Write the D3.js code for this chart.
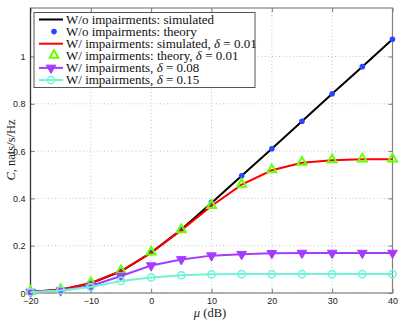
<!DOCTYPE html>
<html>
<head>
<meta charset="utf-8">
<script src="https://cdn.jsdelivr.net/npm/d3@7"></script>
<style>
  body { margin: 0; background: #fff; }
  .tick text { font-family: "Liberation Sans", Arial, sans-serif; font-size: 9px; fill: #222; }
  .serif { font-family: "Liberation Serif", "Times New Roman", serif; }
</style>
</head>
<body>
<svg id="chart" width="402" height="321"></svg>
<script>
var mu = [-20, -15, -10, -5, 0, 5, 10, 15, 20, 25, 30, 35, 40];
var noImpSim = [0.005, 0.014, 0.041, 0.092, 0.171, 0.268, 0.381, 0.496, 0.610, 0.726, 0.842, 0.957, 1.073];
var noImpTheory = [0.005, 0.014, 0.041, 0.092, 0.171, 0.268, 0.383, 0.496, 0.610, 0.726, 0.842, 0.957, 1.073];
var imp001Sim = [0.005, 0.013, 0.042, 0.093, 0.170, 0.266, 0.368, 0.458, 0.519, 0.551, 0.561, 0.565, 0.565];
var imp001Theory = [0.005, 0.013, 0.042, 0.093, 0.172, 0.266, 0.368, 0.458, 0.519, 0.551, 0.561, 0.565, 0.565];
var imp008 = [0.004, 0.010, 0.030, 0.072, 0.116, 0.142, 0.158, 0.164, 0.168, 0.169, 0.169, 0.169, 0.169];
var imp015 = [0.003, 0.011, 0.025, 0.051, 0.066, 0.075, 0.079, 0.080, 0.080, 0.080, 0.080, 0.080, 0.080];
var xTicks = [-20, -10, 0, 10, 20, 30, 40];
var yTicks = [0, 0.2, 0.4, 0.6, 0.8, 1];

var svg = d3.select('#chart');
var x = d3.scaleLinear().domain([-20, 40]).range([30.5, 392.5]);
var y = d3.scaleLinear().domain([0, 1.205]).range([293, 8]);
var L = x.range()[0], R = x.range()[1], T = y.range()[1], B = y.range()[0];

function pts(vals) { return vals.map(function (v, i) { return [mu[i], v]; }); }
var line = d3.line().x(function (d) { return x(d[0]); }).y(function (d) { return y(d[1]); });

// grid
var grid = svg.append('g').attr('stroke', '#c4c4c4').attr('stroke-dasharray', '1,2.5').attr('stroke-width', 1);
xTicks.forEach(function (t) {
    grid.append('line').attr('x1', x(t)).attr('x2', x(t)).attr('y1', T).attr('y2', B);
});
yTicks.forEach(function (t) {
    grid.append('line').attr('x1', L).attr('x2', R).attr('y1', y(t)).attr('y2', y(t));
});

// axes
svg.append('g').attr('transform', 'translate(0,' + B + ')')
    .call(d3.axisBottom(x).tickValues(xTicks).tickSize(-4).tickPadding(5).tickFormat(function (d) { return d < 0 ? '\u2212' + (-d) : d; }));
var yAxis = svg.append('g').attr('transform', 'translate(' + L + ',0)')
    .call(d3.axisLeft(y).tickValues(yTicks).tickSize(-4).tickPadding(5).tickFormat(function (d) { return d3.format('~g')(d); }));
svg.append('g').attr('transform', 'translate(0,' + T + ')')
    .call(d3.axisTop(x).tickValues(xTicks).tickSize(-4).tickFormat(''));
svg.append('g').attr('transform', 'translate(' + R + ',0)')
    .call(d3.axisRight(y).tickValues(yTicks).tickSize(-4).tickFormat(''));
svg.selectAll('.domain').remove();
svg.selectAll('.tick line').attr('stroke', '#777');
yAxis.selectAll('.tick text').attr('dy', '0.35em');

svg.append('rect').attr('x', L).attr('y', T).attr('width', R - L).attr('height', B - T)
    .attr('fill', 'none').attr('stroke', '#808080').attr('stroke-width', 1.2);
svg.append('line').attr('x1', L).attr('x2', L).attr('y1', T).attr('y2', B)
    .attr('stroke', '#333').attr('stroke-width', 1.2);

// series
var tri = d3.symbol().type(d3.symbolTriangle).size(34);
var triDown = d3.symbol().type(d3.symbolTriangle).size(40);

svg.append('path').attr('d', line(pts(noImpSim))).attr('fill', 'none').attr('stroke', '#000').attr('stroke-width', 2);
svg.append('g').selectAll('circle').data(pts(noImpTheory)).enter().append('circle')
    .attr('cx', function (d) { return x(d[0]); }).attr('cy', function (d) { return y(d[1]); })
    .attr('r', 2.8).attr('fill', '#2846ff');
svg.append('path').attr('d', line(pts(imp001Sim))).attr('fill', 'none').attr('stroke', '#ff0000').attr('stroke-width', 2);
svg.append('g').selectAll('path').data(pts(imp001Theory)).enter().append('path')
    .attr('d', tri).attr('transform', function (d) { return 'translate(' + x(d[0]) + ',' + (y(d[1]) - 0.5) + ')'; })
    .attr('fill', 'none').attr('stroke', '#66ff00').attr('stroke-width', 2);

svg.append('path').attr('d', line(pts(imp008))).attr('fill', 'none').attr('stroke', '#a43cff').attr('stroke-width', 2);
svg.append('g').selectAll('path').data(pts(imp008)).enter().append('path')
    .attr('d', triDown).attr('transform', function (d) { return 'translate(' + x(d[0]) + ',' + y(d[1]) + ') rotate(180)'; })
    .attr('fill', '#a43cff').attr('stroke', '#a43cff').attr('stroke-width', 1);

svg.append('path').attr('d', line(pts(imp015))).attr('fill', 'none').attr('stroke', '#6ff5d6').attr('stroke-width', 2);
svg.append('g').selectAll('circle').data(pts(imp015)).enter().append('circle')
    .attr('cx', function (d) { return x(d[0]); }).attr('cy', function (d) { return y(d[1]); })
    .attr('r', 3.6).attr('fill', 'none').attr('stroke', '#6ff5d6').attr('stroke-width', 1.5);

// axis labels
var yl = svg.append('text').attr('class', 'serif').attr('transform', 'translate(15,150) rotate(-90)')
    .attr('text-anchor', 'middle').style('font-size', '12.5px').attr('fill', '#222');
yl.append('tspan').attr('font-style', 'italic').text('C');
yl.append('tspan').text(', nats/s/Hz');
var xl = svg.append('text').attr('class', 'serif').attr('x', 210).attr('y', 317)
    .attr('text-anchor', 'middle').style('font-size', '12.5px').attr('fill', '#222');
xl.append('tspan').attr('font-style', 'italic').text('\u03bc');
xl.append('tspan').text(' (dB)');

// legend
var legendItems = [
    { label: ['W/o impairments: simulated'], color: '#000', line: true, marker: null },
    { label: ['W/o impairments: theory'], color: '#2846ff', line: false, marker: 'dot' },
    { label: ['W/ impairments: simulated, ', '\u03b4', ' = 0.01'], color: '#ff0000', line: true, marker: null },
    { label: ['W/ impairments: theory, ', '\u03b4', ' = 0.01'], color: '#66ff00', line: false, marker: 'tri' },
    { label: ['W/ impairments, ', '\u03b4', ' = 0.08'], color: '#a43cff', line: true, marker: 'triDown' },
    { label: ['W/ impairments, ', '\u03b4', ' = 0.15'], color: '#6ff5d6', line: true, marker: 'circle' }
];
var lg = svg.append('g');
lg.append('rect').attr('x', 34).attr('y', 12.5).attr('width', 221).attr('height', 75)
    .attr('fill', '#fff').attr('stroke', '#555').attr('stroke-width', 1);
legendItems.forEach(function (it, i) {
    var cy = 19.5 + i * 12.1;
    var g = lg.append('g');
    if (it.line) {
        g.append('line').attr('x1', 39).attr('x2', 63).attr('y1', cy).attr('y2', cy)
            .attr('stroke', it.color).attr('stroke-width', 2);
    }
    if (it.marker === 'dot') {
        g.append('circle').attr('cx', 54).attr('cy', cy).attr('r', 2.8).attr('fill', it.color);
    } else if (it.marker === 'tri') {
        g.append('path').attr('d', tri).attr('transform', 'translate(54,' + (cy - 0.5) + ')')
            .attr('fill', 'none').attr('stroke', it.color).attr('stroke-width', 2);
    } else if (it.marker === 'triDown') {
        g.append('path').attr('d', triDown).attr('transform', 'translate(51,' + cy + ') rotate(180)')
            .attr('fill', it.color).attr('stroke', it.color);
    } else if (it.marker === 'circle') {
        g.append('circle').attr('cx', 51).attr('cy', cy).attr('r', 3.6)
            .attr('fill', 'none').attr('stroke', it.color).attr('stroke-width', 1.5);
    }
    var t = g.append('text').attr('class', 'serif').attr('x', 66).attr('y', cy).attr('dy', '0.33em')
        .style('font-size', '13px').attr('fill', '#111');
    it.label.forEach(function (s) {
        var sp = t.append('tspan').text(s);
        if (s === '\u03b4') sp.attr('font-style', 'italic');
    });
});
</script>
</body>
</html>
